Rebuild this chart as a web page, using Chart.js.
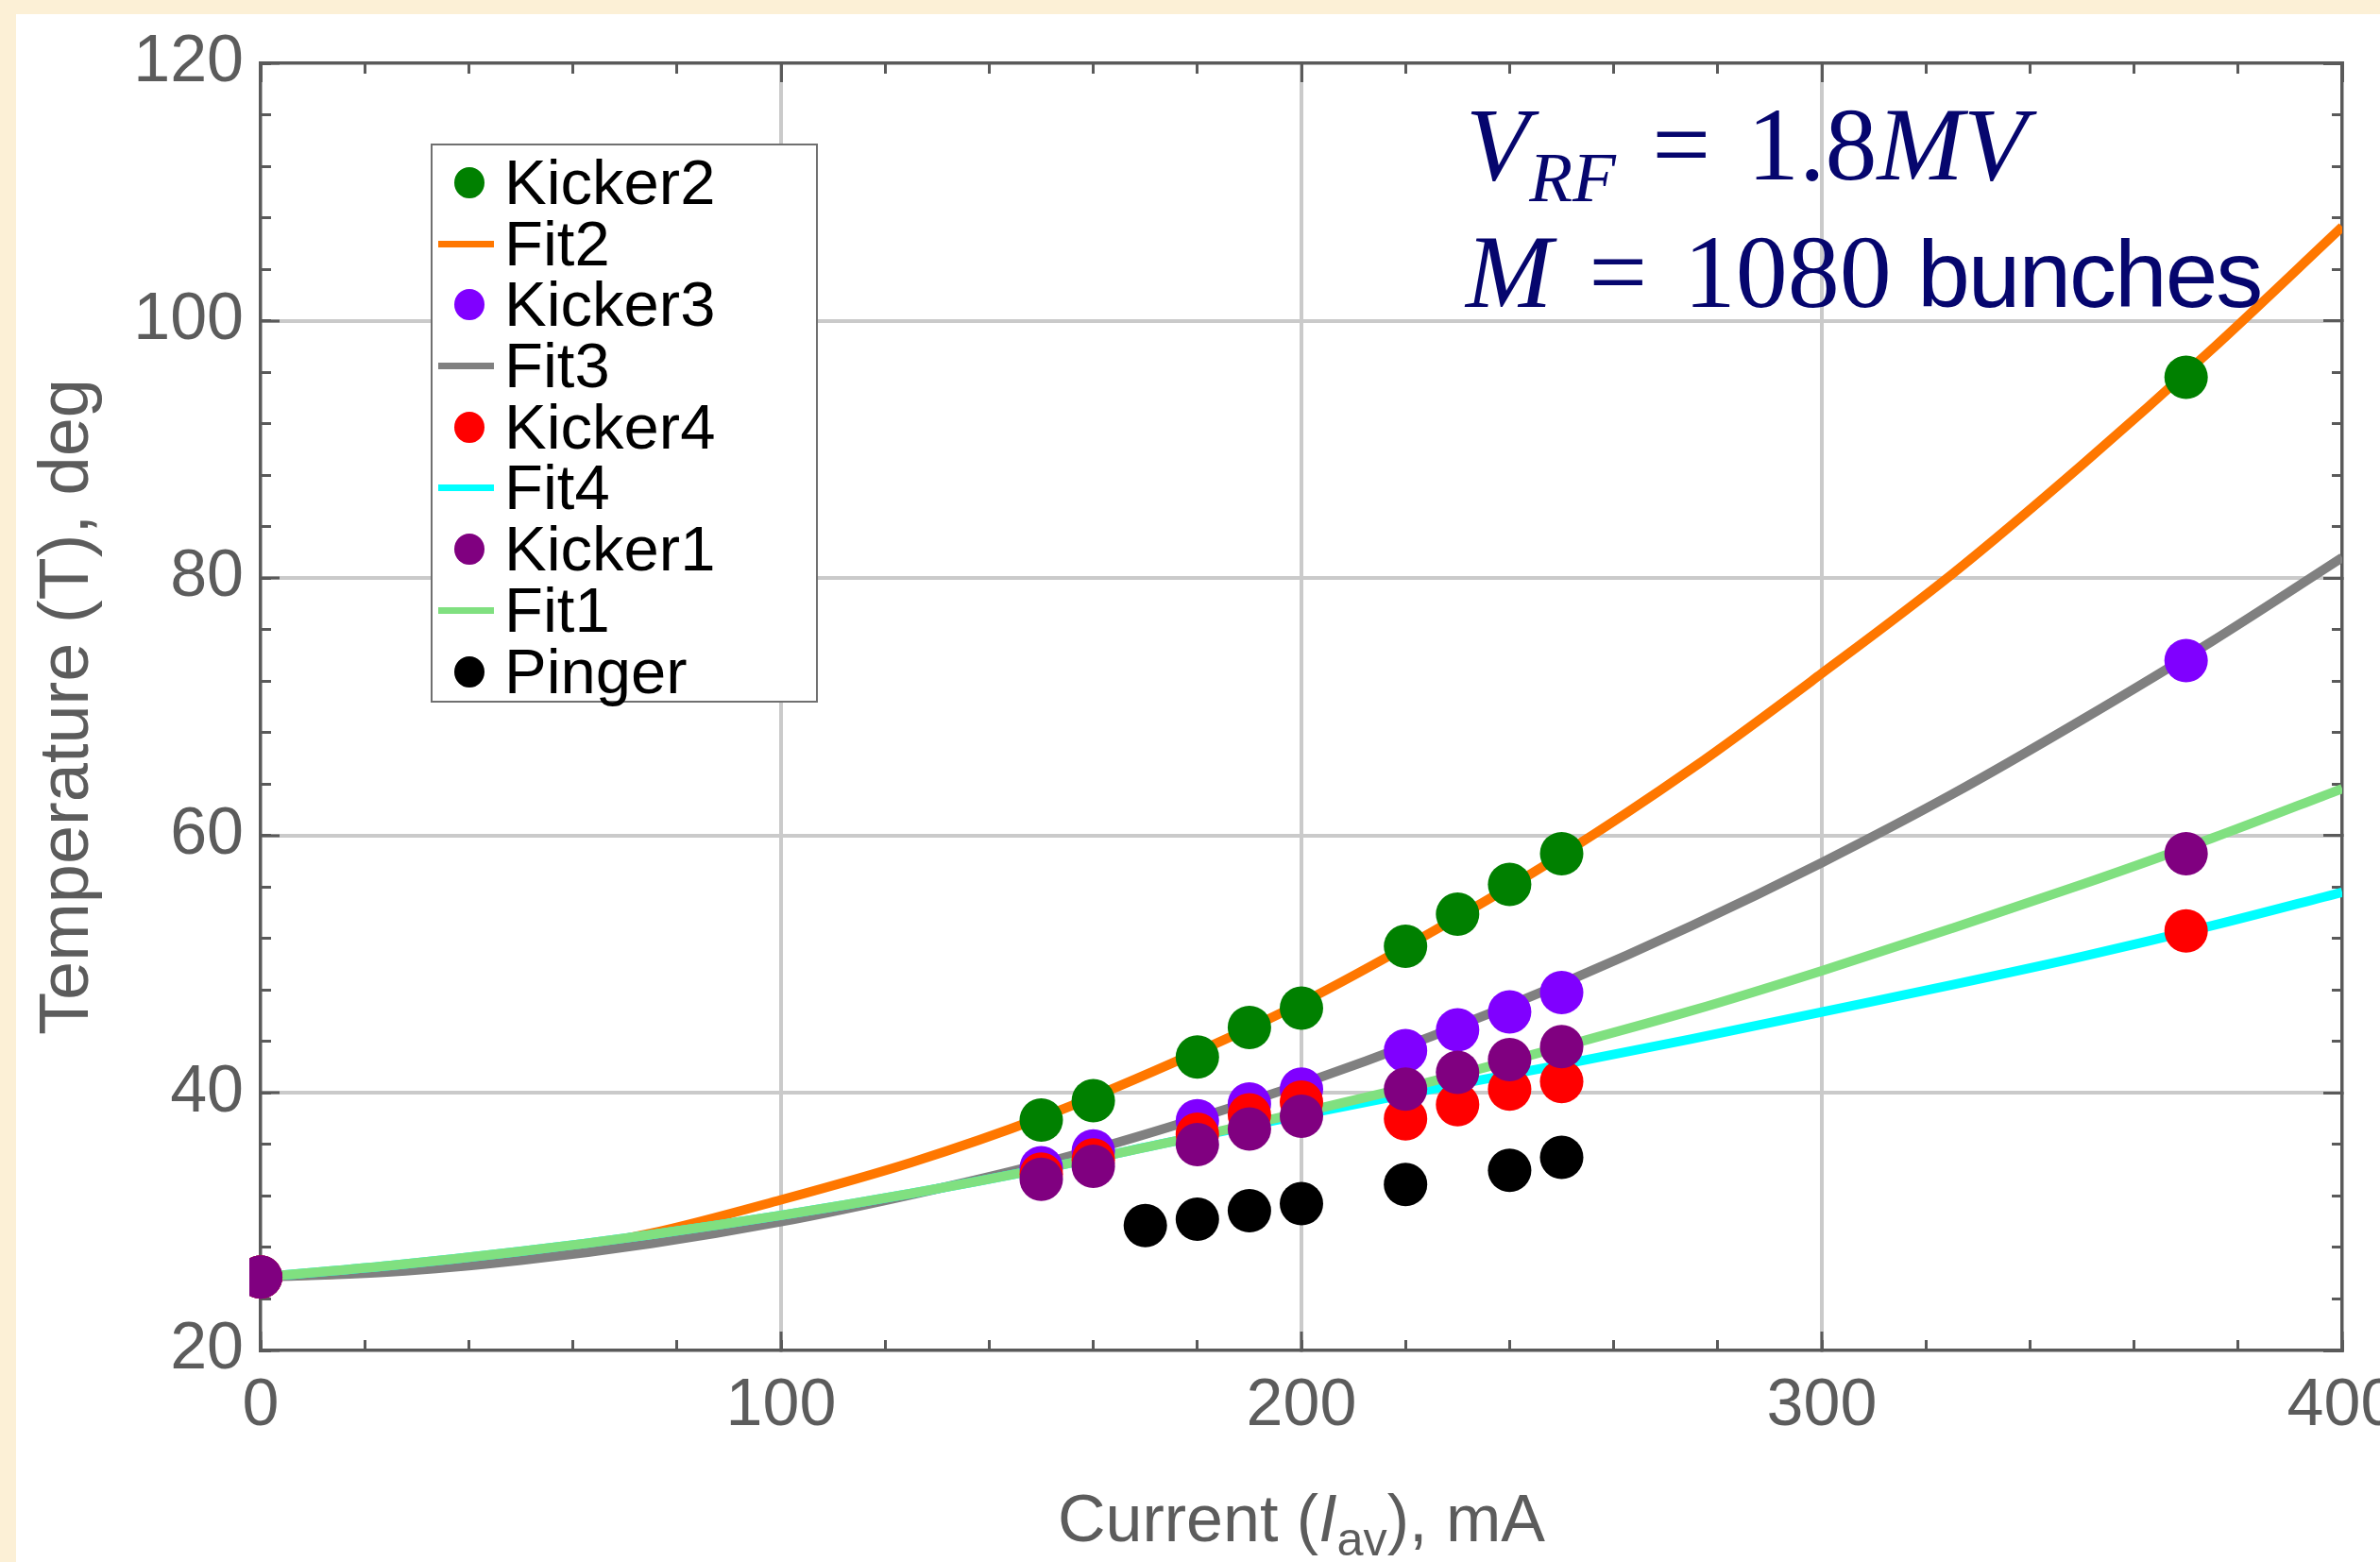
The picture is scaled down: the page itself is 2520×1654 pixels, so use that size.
<!DOCTYPE html>
<html>
<head>
<meta charset="utf-8">
<script src="https://cdn.jsdelivr.net/npm/chart.js@4.4.1/dist/chart.umd.min.js"></script>
<style>
  html, body { margin: 0; padding: 0; }
  body { width: 2520px; height: 1654px; background: #fcf0d6; position: relative; overflow: hidden;
         font-family: 'Liberation Sans', Arial, sans-serif; }
  #panel { position: absolute; left: 17px; top: 15px; right: 0; bottom: 0; background: #fff; }
  #wrap { position: absolute; left: 0; top: 0; width: 2520px; height: 1654px; }
  #legend { position: absolute; left: 456px; top: 152px; width: 410px; height: 592px; background: #fff;
            border: 2px solid #707070; padding-top: 7px; box-sizing: border-box; }
  .row { position: relative; height: 64.7px; line-height: 64.7px; font-size: 67px; color: #000; white-space: nowrap; }
  .row .dot { position: absolute; left: 23px; top: 16px; width: 32px; height: 33px; border-radius: 50%; }
  .row .ln { position: absolute; left: 6px; top: 29px; width: 59px; height: 7px; }
  .row .txt { position: absolute; left: 76px; top: 0; }
  #xtitle { position: absolute; left: 276px; width: 2204px; top: 1566px; text-align: center; font-size: 70px;
            line-height: 84px; color: #5c5c5c; white-space: nowrap; }
  #xtitle sub { font-size: 0.72em; vertical-align: -0.3em; line-height: 0; }
  .note { position: absolute; left: 1552px; font-family: 'Liberation Serif', 'Times New Roman', serif; font-size: 110px;
          line-height: 110px; color: #06066e; white-space: nowrap; }
  .note sub { font-size: 75px; vertical-align: -23px; line-height: 0; }
  .note .eq { margin: 0 0.1em; }
  .note .sans { font-family: 'Liberation Sans Narrow', 'Arial Narrow', 'Liberation Sans', sans-serif; font-size: 100px;
                letter-spacing: -2px; }
</style>
</head>
<body>
<div id="panel"></div>
<div id="wrap"><canvas id="tempChart"></canvas></div>
<div id="legend"></div>
<div id="xtitle">Current (<i>I</i><sub>av</sub>), mA</div>
<div class="note" style="top:98px"><i>V</i><sub><i>RF</i></sub> <span class="eq">=</span> 1.8<i>MV</i></div>
<div class="note" style="top:233px"><i>M</i> <span class="eq">=</span> 1080 <span class="sans">bunches</span></div>
<script>
// ── measured points (current in mA, temperature in deg) ──
const kickerCurrent = [0, 150, 160, 180, 190, 200, 220, 230, 240, 250, 370];
const kicker2 = [25.7, 37.9, 39.4, 42.8, 45.1, 46.6, 51.4, 53.9, 56.2, 58.6, 95.6];
const kicker3 = [25.7, 34.2, 35.5, 37.85, 39.15, 40.3, 43.3, 44.9, 46.3, 47.8, 73.6];
const kicker4 = [25.7, 33.7, 34.8, 36.8, 38.3, 39.3, 38.0, 39.1, 40.3, 40.9, 52.6];
const kicker1 = [25.7, 33.3, 34.3, 36.0, 37.2, 38.2, 40.3, 41.6, 42.6, 43.6, 58.6];
const pingerCurrent = [170, 180, 190, 200, 220, 240, 250];
const pinger = [29.7, 30.2, 30.85, 31.4, 32.9, 34.0, 35.0];

// ── fit curves ──
const fitCurrent = [0, 25, 50, 75, 100, 125, 150, 175, 200, 225, 250, 275, 300, 325, 350, 375, 400];
const fit2 = [25.7, 26.2, 27.3, 29.1, 31.7, 34.6, 38.1, 42.3, 47.0, 52.5, 58.5, 65.2, 72.6, 80.3, 88.8, 97.8, 107.3];
const fit3 = [25.7, 26.1, 27.0, 28.3, 30.0, 32.1, 34.5, 37.4, 40.7, 44.4, 48.5, 53.0, 57.9, 63.2, 69.0, 75.1, 81.6];
const fit4 = [25.7, 26.6, 27.7, 29.0, 30.5, 32.2, 34.1, 36.2, 38.3, 40.3, 42.2, 44.2, 46.3, 48.4, 50.6, 53.0, 55.6];
const fit1 = [25.7, 26.6, 27.7, 29.0, 30.5, 32.2, 34.1, 36.2, 38.5, 40.9, 43.6, 46.4, 49.5, 52.8, 56.2, 59.8, 63.65];

// axis ranges / ticks
const xRange = [0, 400], xMajor = 100, xMinor = 20;
const yRange = [20, 120], yMajor = 20, yMinor = 4;

const frameColor = '#5a5a5a', gridColor = '#cacaca', labelColor = '#5c5c5c';
Chart.defaults.font.family = "'Liberation Sans', Arial, sans-serif";

const pts = (xs, ys) => xs.map((x, i) => ({ x: x, y: ys[i] }));
const marks = (label, xs, ys, color, order) => ({ label, data: pts(xs, ys), showLine: false, pointRadius: 23,
  pointHoverRadius: 23, backgroundColor: color, borderColor: color, pointBorderWidth: 0, order, clip: 12 });
const curve = (label, ys, color, order) => ({ label, data: pts(fitCurrent, ys), showLine: true, pointRadius: 0,
  borderColor: color, backgroundColor: color, borderWidth: 10, cubicInterpolationMode: 'monotone', fill: false, order });

const noPad = s => { s.paddingLeft = 0; s.paddingRight = 0; s.paddingTop = 0; s.paddingBottom = 0; };
function tickAxis(position, range, step, len, border) {
  const horiz = position === 'top' || position === 'bottom';
  return {
    type: 'linear', position, min: range[0], max: range[1], weight: -1,
    afterFit: s => { if (horiz) s.height = 0; else s.width = 0; noPad(s); },
    border: { display: border, color: frameColor, width: 3.5 },
    grid: { drawOnChartArea: false, tickLength: -len, tickColor: frameColor, tickWidth: 3 },
    ticks: { display: false, stepSize: step }
  };
}
const innerGrid = (range) => ctx => (ctx.tick && ctx.tick.value > range[0] && ctx.tick.value < range[1]) ? gridColor : 'rgba(0,0,0,0)';

const chart = new Chart(document.getElementById('tempChart').getContext('2d'), {
  type: 'scatter',
  data: {
    datasets: [
      marks('Kicker2', kickerCurrent, kicker2, '#008000', 5),
      curve('Fit2', fit2, '#ff7700', 9),
      marks('Kicker3', kickerCurrent, kicker3, '#8000ff', 4),
      curve('Fit3', fit3, '#808080', 8),
      marks('Kicker4', kickerCurrent, kicker4, '#ff0000', 3),
      curve('Fit4', fit4, '#00ffff', 7),
      marks('Kicker1', kickerCurrent, kicker1, '#800080', 2),
      curve('Fit1', fit1, '#80e080', 6),
      marks('Pinger', pingerCurrent, pinger, '#000000', 1)
    ]
  },
  options: {
    responsive: true, maintainAspectRatio: false, animation: false, events: [],
    layout: { padding: { left: 0, top: 67, right: 40, bottom: 0 } },
    plugins: { legend: { display: false }, tooltip: { enabled: false } },
    scales: {
      x: {
        type: 'linear', position: 'bottom', min: xRange[0], max: xRange[1],
        afterFit: s => { s.height = 224; noPad(s); },
        border: { color: frameColor, width: 3.5 },
        grid: { color: innerGrid(xRange), lineWidth: 4, tickLength: -20, tickColor: frameColor, tickWidth: 3 },
        ticks: { stepSize: xMajor, padding: 38, color: labelColor, font: { size: 70 }, maxRotation: 0, autoSkip: false }
      },
      xMinorBottom: tickAxis('bottom', xRange, xMinor, 11, false),
      xTop: tickAxis('top', xRange, xMajor, 20, true),
      xMinorTop: tickAxis('top', xRange, xMinor, 11, false),
      y: {
        type: 'linear', position: 'left', min: yRange[0], max: yRange[1],
        afterFit: s => { s.width = 276; noPad(s); },
        border: { color: frameColor, width: 3.5 },
        grid: { color: innerGrid(yRange), lineWidth: 4, tickLength: -20, tickColor: frameColor, tickWidth: 3 },
        ticks: { stepSize: yMajor, padding: 38, color: labelColor, font: { size: 70 } },
        title: { display: true, text: 'Temperature (T), deg', color: labelColor, font: { size: 74 }, padding: { top: 28, bottom: 0 } }
      },
      yMinorLeft: tickAxis('left', yRange, yMinor, 11, false),
      yRight: tickAxis('right', yRange, yMajor, 20, true),
      yMinorRight: tickAxis('right', yRange, yMinor, 11, false)
    }
  }
});

// legend box inside the plot, built from the datasets
const legend = document.getElementById('legend');
chart.data.datasets.forEach(ds => {
  const row = document.createElement('div');
  row.className = 'row';
  const mark = document.createElement('span');
  mark.className = ds.showLine ? 'ln' : 'dot';
  mark.style.background = ds.showLine ? ds.borderColor : ds.backgroundColor;
  const txt = document.createElement('span');
  txt.className = 'txt';
  txt.textContent = ds.label;
  row.appendChild(mark);
  row.appendChild(txt);
  legend.appendChild(row);
});
</script>
</body>
</html>
